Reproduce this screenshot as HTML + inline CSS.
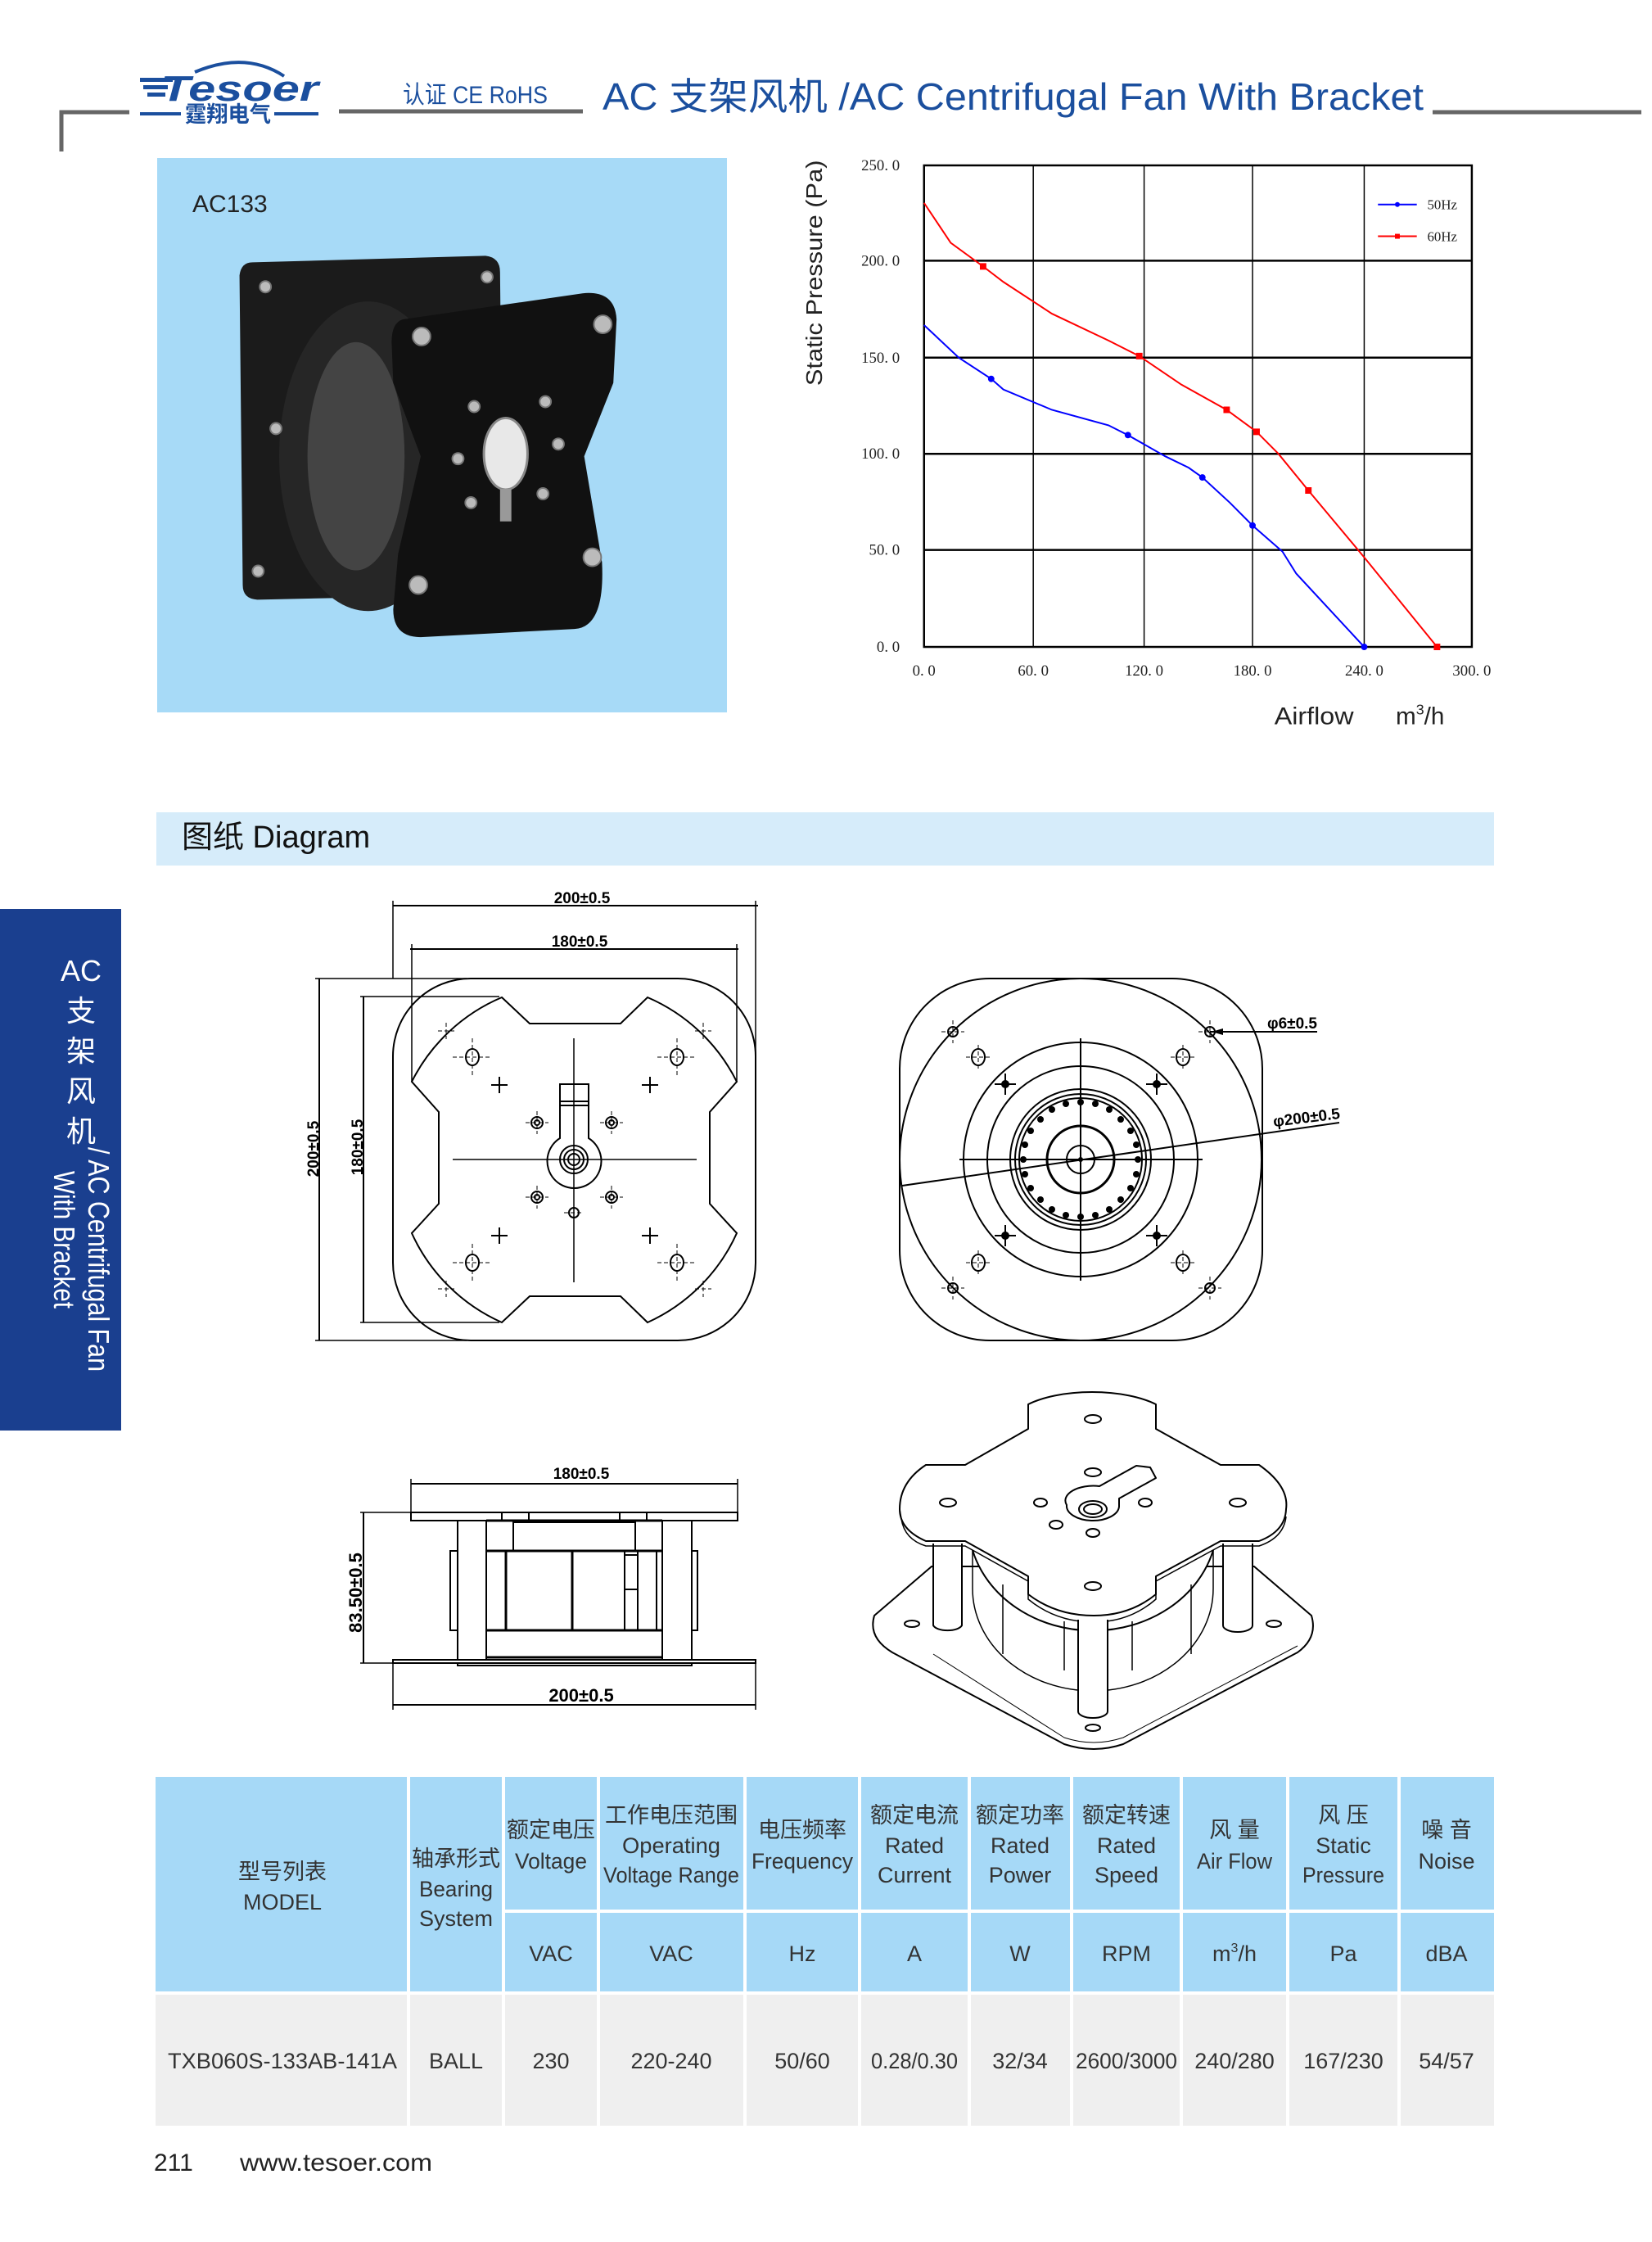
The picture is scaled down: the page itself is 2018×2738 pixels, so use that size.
<!DOCTYPE html>
<html><head><meta charset="utf-8"><style>
html,body{margin:0;padding:0;background:#fff;}
svg{display:block;}
text{font-family:"Liberation Sans","Noto Sans CJK SC",sans-serif;}
.s{font-family:"Liberation Serif","Noto Serif CJK SC",serif;}
</style></head><body>
<svg width="2018" height="2738" viewBox="0 0 2018 2738" xmlns="http://www.w3.org/2000/svg">
<!-- HEADER -->
<g stroke="#666" stroke-width="5" fill="none">
<polyline points="75,185 75,137 158,137"/>
<line x1="414" y1="136" x2="712" y2="136"/>
<line x1="1750" y1="137" x2="2005" y2="137"/>
</g>
<path d="M238,88 Q300,62 347,93" stroke="#1b4f9e" stroke-width="4" fill="none"/>
<g fill="#1b4f9e">
<rect x="171" y="95" width="40" height="5"/><rect x="175" y="104" width="30" height="5"/><rect x="180" y="113" width="22" height="5"/>
<text x="196" y="123" font-size="44" font-weight="bold" font-style="italic" textLength="193" lengthAdjust="spacingAndGlyphs">Tesoer</text>
<rect x="171" y="137" width="50" height="4"/><rect x="335" y="137" width="54" height="4"/>
<text x="226" y="149" font-size="27" font-weight="bold" textLength="105" lengthAdjust="spacingAndGlyphs">霆翔电气</text>
<text x="492" y="126" font-size="30" textLength="177" lengthAdjust="spacingAndGlyphs">认证 CE RoHS</text>
<text x="736" y="134" font-size="46" textLength="1003" lengthAdjust="spacingAndGlyphs">AC 支架风机 /AC Centrifugal Fan With Bracket</text>
</g>

<!-- PHOTO -->
<rect x="192" y="193" width="696" height="677" fill="#a7daf7"/>
<text x="235" y="259" font-size="30" fill="#222">AC133</text>
<g transform="matrix(0.9884 0 0 0.995 0 0)">
<path d="M312,322 L600,314 Q618,316 618,334 L622,712 Q620,728 604,730 L318,736 Q300,735 300,718 L296,338 Q298,322 312,322 Z" fill="#1b1b1b"/>
<ellipse cx="455" cy="560" rx="110" ry="190" fill="#262626"/>
<ellipse cx="440" cy="560" rx="60" ry="140" fill="#444"/>
<path d="M498,392 L720,360 Q760,356 762,392 L758,470 L722,560 L744,690 Q748,770 710,772 L520,782 Q486,782 486,748 L492,680 L520,560 L486,470 L484,420 Q484,396 498,392 Z" fill="#111"/>
<g fill="#bbb" stroke="#777" stroke-width="2">
<circle cx="521" cy="413" r="11"/><circle cx="745" cy="398" r="11"/><circle cx="732" cy="684" r="11"/><circle cx="517" cy="718" r="11"/>
<circle cx="328" cy="352" r="7"/><circle cx="602" cy="340" r="7"/><circle cx="341" cy="526" r="7"/><circle cx="319" cy="701" r="7"/>
<circle cx="586" cy="499" r="7"/><circle cx="674" cy="493" r="7"/><circle cx="566" cy="563" r="7"/><circle cx="690" cy="545" r="7"/><circle cx="582" cy="617" r="7"/><circle cx="671" cy="606" r="7"/>
</g>
<ellipse cx="625" cy="557" rx="27" ry="44" fill="#e8e8e8" stroke="#888" stroke-width="3"/>
<path d="M618,600 L618,640 L632,640 L632,600 Z" fill="#999"/>
</g>

<!-- CHART -->
<g transform="matrix(0.9884 0 0 0.995 0 0)">
<g stroke="#000" fill="none">
<g stroke-width="1.5">
<line x1="1277" y1="203" x2="1277" y2="794"/><line x1="1414" y1="203" x2="1414" y2="794"/>
<line x1="1548" y1="203" x2="1548" y2="794"/><line x1="1686" y1="203" x2="1686" y2="794"/>
</g>
<g stroke-width="2.5">
<line x1="1142" y1="320" x2="1819" y2="320"/><line x1="1142" y1="439" x2="1819" y2="439"/>
<line x1="1142" y1="557" x2="1819" y2="557"/><line x1="1142" y1="675" x2="1819" y2="675"/>
<rect x="1142" y="203" width="677" height="591"/>
</g>
</g>
<path d="M1142,399 L1185,439 L1225,465 L1240,478 L1300,503 L1370,522 L1394,534 L1440,560 L1469,574 L1486,586 L1520,617 L1548,645 L1585,677 L1602,704 L1686,794" stroke="#0000ff" stroke-width="2" fill="none"/>
<path d="M1142,249 L1175,298 L1215,327 L1240,346 L1300,385 L1370,418 L1408,437 L1460,472 L1516,503 L1553,530 L1580,557 L1617,602 L1686,684 L1776,794" stroke="#ff0000" stroke-width="2" fill="none"/>
<g fill="#0000ff"><circle cx="1225" cy="465" r="4"/><circle cx="1394" cy="534" r="4"/><circle cx="1486" cy="586" r="4"/><circle cx="1548" cy="645" r="4"/><circle cx="1686" cy="794" r="4"/></g>
<g fill="#ff0000"><rect x="1211" y="323" width="8" height="8"/><rect x="1404" y="433" width="8" height="8"/><rect x="1512" y="499" width="8" height="8"/><rect x="1549" y="526" width="8" height="8"/><rect x="1613" y="598" width="8" height="8"/><rect x="1772" y="790" width="8" height="8"/></g>
<line x1="1703" y1="251" x2="1751" y2="251" stroke="#0000ff" stroke-width="2"/><circle cx="1727" cy="251" r="3" fill="#0000ff"/>
<line x1="1703" y1="290" x2="1751" y2="290" stroke="#ff0000" stroke-width="2"/><rect x="1724" y="287" width="6" height="6" fill="#ff0000"/>
<g font-size="17" fill="#222">
<text class="s" x="1764" y="257">50Hz</text><text class="s" x="1764" y="296">60Hz</text>
</g>
<g font-size="19" fill="#222" text-anchor="end">
<text class="s" x="1112" y="209">250. 0</text><text class="s" x="1112" y="326">200. 0</text><text class="s" x="1112" y="445">150. 0</text>
<text class="s" x="1112" y="563">100. 0</text><text class="s" x="1112" y="681">50. 0</text><text class="s" x="1112" y="800">0. 0</text>
</g>
<g font-size="19" fill="#222" text-anchor="middle">
<text class="s" x="1142" y="829">0. 0</text><text class="s" x="1277" y="829">60. 0</text><text class="s" x="1414" y="829">120. 0</text>
<text class="s" x="1548" y="829">180. 0</text><text class="s" x="1686" y="829">240. 0</text><text class="s" x="1819" y="829">300. 0</text>
</g>
<text transform="translate(1016,335) rotate(-90)" text-anchor="middle" font-size="28" fill="#222" textLength="277" lengthAdjust="spacingAndGlyphs">Static Pressure (Pa)</text>
<text x="1575" y="889" font-size="30" fill="#222" textLength="98" lengthAdjust="spacingAndGlyphs">Airflow</text>
<text x="1725" y="889" font-size="30" fill="#222">m<tspan font-size="18" dy="-12">3</tspan><tspan dy="12">/h</tspan></text>
</g>

<!-- SIDE BAR -->
<rect x="0" y="1110" width="148" height="637" fill="#1a3f8f"/>
<g fill="#fff" font-size="36" text-anchor="middle">
<text x="99" y="1198">AC</text><text x="99" y="1247">支</text><text x="99" y="1296">架</text><text x="99" y="1345">风</text><text x="99" y="1394">机</text>
</g>
<text transform="translate(108,1401) rotate(90)" fill="#fff" font-size="36" textLength="274" lengthAdjust="spacingAndGlyphs">/ AC Centrifugal Fan</text>
<text transform="translate(66,1430) rotate(90)" fill="#fff" font-size="36" textLength="168" lengthAdjust="spacingAndGlyphs">With Bracket</text>

<!-- DIAGRAM BAR -->
<rect x="191" y="992" width="1634" height="65" fill="#d6ecfa"/>
<text x="222" y="1035" font-size="38" fill="#111">图纸 Diagram</text>

<!-- TOP VIEW LEFT -->
<g stroke="#000" stroke-width="2" fill="none">
<rect x="480" y="1195" width="443" height="442" rx="95"/>
<path d="M613,1218 L647,1250 L758,1250 L791,1218 A218,218 0 0 1 900,1321 L867,1358 L867,1470 L900,1506 A218,218 0 0 1 791,1615 L758,1583 L647,1583 L613,1615 A218,218 0 0 1 503,1506 L536,1470 L536,1358 L503,1321 A218,218 0 0 1 613,1218 Z"/>
<line x1="480" y1="1106" x2="926" y2="1106"/><line x1="501" y1="1159" x2="902" y2="1159"/>
<line x1="480" y1="1100" x2="480" y2="1195" stroke-width="1.5"/><line x1="923" y1="1100" x2="923" y2="1300" stroke-width="1.5"/>
<line x1="503" y1="1153" x2="503" y2="1321" stroke-width="1.5"/><line x1="900" y1="1153" x2="900" y2="1321" stroke-width="1.5"/>
<line x1="390" y1="1195" x2="390" y2="1637"/><line x1="444" y1="1217" x2="444" y2="1615"/>
<line x1="385" y1="1195" x2="570" y2="1195" stroke-width="1.5"/><line x1="385" y1="1637" x2="570" y2="1637" stroke-width="1.5"/>
<line x1="440" y1="1217" x2="610" y2="1217" stroke-width="1.5"/><line x1="440" y1="1615" x2="610" y2="1615" stroke-width="1.5"/>
<line x1="553" y1="1416" x2="851" y2="1416" stroke-width="1.5"/><line x1="701" y1="1268" x2="701" y2="1566" stroke-width="1.5"/>
<path d="M684,1324 L719,1324 L719,1390 A33,33 0 1 1 684,1390 Z"/>
<line x1="684" y1="1345" x2="719" y2="1345"/><line x1="684" y1="1350" x2="719" y2="1350"/>
<circle cx="701" cy="1416" r="17"/><circle cx="701" cy="1416" r="12"/><circle cx="701" cy="1416" r="7"/>
<circle cx="656" cy="1371" r="7"/><circle cx="747" cy="1371" r="7"/><circle cx="656" cy="1462" r="7"/><circle cx="747" cy="1462" r="7"/>
<circle cx="656" cy="1371" r="3"/><circle cx="747" cy="1371" r="3"/><circle cx="656" cy="1462" r="3"/><circle cx="747" cy="1462" r="3"/>
<circle cx="701" cy="1481" r="6"/>
<path d="M600,1325 h20 M610,1315 v20 M784,1325 h20 M794,1315 v20 M600,1509 h20 M610,1499 v20 M784,1509 h20 M794,1499 v20"/>
<ellipse cx="577" cy="1291" rx="8" ry="10"/><ellipse cx="827" cy="1291" rx="8" ry="10"/><ellipse cx="577" cy="1542" rx="8" ry="10"/><ellipse cx="827" cy="1542" rx="8" ry="10"/>
<g stroke-width="1" stroke-dasharray="5,3">
<path d="M553,1291 h48 M577,1268 v46 M803,1291 h48 M827,1268 v46 M553,1542 h48 M577,1519 v46 M803,1542 h48 M827,1519 v46"/>
<path d="M535,1259 h20 M545,1249 v20 M849,1259 h20 M859,1249 v20 M535,1574 h20 M545,1564 v20 M849,1574 h20 M859,1564 v20"/>
<path d="M642,1371 h28 M656,1357 v28 M733,1371 h28 M747,1357 v28 M642,1462 h28 M656,1448 v28 M733,1462 h28 M747,1448 v28 M689,1481 h24"/>
</g>
</g>
<g font-size="19" font-weight="bold" fill="#000" text-anchor="middle">
<text x="711" y="1103">200±0.5</text><text x="708" y="1156">180±0.5</text>
<text transform="translate(389,1403) rotate(-90)">200±0.5</text>
<text transform="translate(443,1401) rotate(-90)">180±0.5</text>
</g>

<!-- TOP VIEW RIGHT -->
<g stroke="#000" stroke-width="2" fill="none">
<rect x="1099" y="1195" width="443" height="442" rx="110"/>
<circle cx="1320" cy="1416" r="221"/>
<circle cx="1320" cy="1416" r="143"/><circle cx="1320" cy="1416" r="114"/>
<circle cx="1320" cy="1416" r="86"/><circle cx="1320" cy="1416" r="80"/><circle cx="1320" cy="1416" r="75"/>
<circle cx="1320" cy="1416" r="41" stroke-width="3"/><circle cx="1320" cy="1416" r="17"/>
<line x1="1172" y1="1416" x2="1469" y2="1416"/><line x1="1320" y1="1268" x2="1320" y2="1564"/>
<line x1="1102" y1="1448" x2="1636" y2="1371"/>
<line x1="1478" y1="1260" x2="1609" y2="1260"/>
<circle cx="1164" cy="1260" r="6"/><circle cx="1478" cy="1260" r="6"/><circle cx="1164" cy="1573" r="6"/><circle cx="1478" cy="1573" r="6"/>
<ellipse cx="1195" cy="1291" rx="8" ry="10"/><ellipse cx="1445" cy="1291" rx="8" ry="10"/><ellipse cx="1195" cy="1542" rx="8" ry="10"/><ellipse cx="1445" cy="1542" rx="8" ry="10"/>
<g stroke-width="1" stroke-dasharray="5,3">
<path d="M1150,1260 h28 M1164,1246 v28 M1464,1260 h28 M1478,1246 v28 M1150,1573 h28 M1164,1559 v28 M1464,1573 h28 M1478,1559 v28"/>
<path d="M1180,1291 h30 M1195,1276 v30 M1430,1291 h30 M1445,1276 v30 M1180,1542 h30 M1195,1527 v30 M1430,1542 h30 M1445,1527 v30"/>
</g>
<path d="M1215,1324 h26 M1228,1311 v26 M1400,1324 h26 M1413,1311 v26 M1215,1509 h26 M1228,1496 v26 M1400,1509 h26 M1413,1496 v26"/>
</g>
<g fill="#000">
<circle cx="1228" cy="1324" r="5"/><circle cx="1413" cy="1324" r="5"/><circle cx="1228" cy="1509" r="5"/><circle cx="1413" cy="1509" r="5"/>
<polygon points="1480,1260 1494,1256 1494,1264"/>
<circle cx="1390" cy="1416" r="4"/><circle cx="1388" cy="1434" r="4"/><circle cx="1381" cy="1451" r="4"/><circle cx="1369" cy="1465" r="4"/><circle cx="1355" cy="1477" r="4"/><circle cx="1338" cy="1484" r="4"/><circle cx="1320" cy="1486" r="4"/><circle cx="1302" cy="1484" r="4"/><circle cx="1285" cy="1477" r="4"/><circle cx="1271" cy="1465" r="4"/><circle cx="1259" cy="1451" r="4"/><circle cx="1252" cy="1434" r="4"/><circle cx="1250" cy="1416" r="4"/><circle cx="1252" cy="1398" r="4"/><circle cx="1259" cy="1381" r="4"/><circle cx="1271" cy="1367" r="4"/><circle cx="1285" cy="1355" r="4"/><circle cx="1302" cy="1348" r="4"/><circle cx="1320" cy="1346" r="4"/><circle cx="1338" cy="1348" r="4"/><circle cx="1355" cy="1355" r="4"/><circle cx="1369" cy="1367" r="4"/><circle cx="1381" cy="1381" r="4"/><circle cx="1388" cy="1398" r="4"/>
<circle cx="1320" cy="1416" r="3"/>
</g>
<g font-size="19" font-weight="bold" fill="#000">
<text x="1548" y="1256">φ6±0.5</text>
<text transform="translate(1556,1376) rotate(-7)">φ200±0.5</text>
</g>

<!-- SIDE VIEW -->
<g stroke="#000" stroke-width="2" fill="none">
<line x1="502" y1="1812" x2="901" y2="1812"/>
<line x1="502" y1="1806" x2="502" y2="1857" stroke-width="1.5"/><line x1="901" y1="1806" x2="901" y2="1857" stroke-width="1.5"/>
<rect x="502" y="1847" width="399" height="10"/>
<line x1="613" y1="1847" x2="613" y2="1857"/><line x1="646" y1="1847" x2="646" y2="1857"/><line x1="757" y1="1847" x2="757" y2="1857"/><line x1="790" y1="1847" x2="790" y2="1857"/>
<line x1="444" y1="1847" x2="444" y2="2031"/>
<line x1="440" y1="1847" x2="502" y2="1847" stroke-width="1.5"/><line x1="440" y1="2031" x2="480" y2="2031" stroke-width="1.5"/>
<rect x="559" y="1857" width="35" height="170"/><rect x="809" y="1857" width="36" height="170"/>
<line x1="594" y1="1857" x2="809" y2="1857" stroke-width="3"/>
<rect x="627" y="1859" width="149" height="35"/>
<line x1="594" y1="1894" x2="809" y2="1894" stroke-width="3"/><line x1="594" y1="1991" x2="809" y2="1991" stroke-width="3"/>
<rect x="550" y="1894" width="9" height="97"/><rect x="845" y="1894" width="7" height="97"/>
<line x1="618" y1="1894" x2="618" y2="1991" stroke-width="3"/><line x1="699" y1="1894" x2="699" y2="1991" stroke-width="3"/>
<line x1="763" y1="1894" x2="763" y2="1991"/><line x1="779" y1="1894" x2="779" y2="1991"/><line x1="802" y1="1894" x2="802" y2="1991"/>
<rect x="763" y="1899" width="16" height="42"/>
<line x1="594" y1="2024" x2="809" y2="2024" stroke-width="3"/>
<rect x="480" y="2027" width="443" height="4"/>
<rect x="559" y="2031" width="286" height="3"/>
<line x1="480" y1="2082" x2="923" y2="2082"/>
<line x1="480" y1="2031" x2="480" y2="2088" stroke-width="1.5"/><line x1="923" y1="2031" x2="923" y2="2088" stroke-width="1.5"/>
</g>
<g font-size="19" font-weight="bold" fill="#000" text-anchor="middle">
<text x="710" y="1806">180±0.5</text><text x="710" y="2078" font-size="22">200±0.5</text>
<text transform="translate(442,1945) rotate(-90)" font-size="22">83.50±0.5</text>
</g>

<!-- ISO VIEW -->
<g stroke="#000" stroke-width="2" fill="#fff" stroke-linejoin="round">
<path d="M1138,1913 L1068,1973 Q1060,2000 1090,2018 L1300,2130 Q1336,2142 1372,2130 L1585,2018 Q1610,2000 1602,1973 L1532,1913 Z"/>
<path d="M1140,2020 L1300,2122 Q1336,2134 1372,2122 L1585,2010" fill="none" stroke-width="1"/>
<path d="M1188,1893 A152,132 0 0 0 1482,1893" />
<path d="M1188,1893 L1188,1940 A147,125 0 0 0 1482,1940 L1482,1893" fill="none" stroke-width="1.5"/>
<line x1="1225" y1="1935" x2="1225" y2="2020" stroke-width="1.5"/><line x1="1300" y1="1980" x2="1300" y2="2040" stroke-width="1.5"/><line x1="1383" y1="1980" x2="1383" y2="2040" stroke-width="1.5"/><line x1="1455" y1="1935" x2="1455" y2="2020" stroke-width="1.5"/>
<path d="M1140,1885 L1140,1985 A18,8 0 0 0 1175,1985 L1175,1885"/>
<path d="M1494,1885 L1494,1985 A18,8 0 0 0 1530,1985 L1530,1885"/>
<path d="M1256,1715 A100,40 0 0 1 1412,1715 L1412,1745 L1491,1789 L1538,1789 Q1575,1815 1571,1843 Q1570,1870 1538,1882 L1491,1882 L1412,1925 L1412,1947 Q1380,1973 1336,1973 Q1290,1973 1256,1947 L1256,1925 L1179,1882 L1131,1882 Q1099,1868 1099,1843 Q1099,1810 1131,1789 L1179,1789 L1256,1745 Z"/>
<path d="M1099,1843 L1101,1855 Q1105,1880 1131,1888 L1179,1888 L1256,1931 L1256,1953 Q1290,1981 1336,1981 Q1380,1981 1412,1953 L1412,1931 L1491,1888 L1538,1888 Q1568,1878 1571,1852" fill="none" stroke-width="1.5"/>
<path d="M1317,1978 L1317,2090 A18,8 0 0 0 1353,2090 L1353,1978"/>
<ellipse cx="1335" cy="1733" rx="10" ry="5"/><ellipse cx="1335" cy="1798" rx="10" ry="5"/><ellipse cx="1158" cy="1835" rx="10" ry="5"/><ellipse cx="1512" cy="1835" rx="10" ry="5"/>
<ellipse cx="1271" cy="1835" rx="8" ry="5"/><ellipse cx="1399" cy="1835" rx="8" ry="5"/><ellipse cx="1290" cy="1862" rx="8" ry="5"/><ellipse cx="1335" cy="1872" rx="8" ry="5"/><ellipse cx="1335" cy="1937" rx="10" ry="5"/>
<ellipse cx="1114" cy="1983" rx="9" ry="4"/><ellipse cx="1556" cy="1983" rx="9" ry="4"/><ellipse cx="1335" cy="2110" rx="9" ry="4"/>
<path d="M1303,1838 A32,18 0 0 0 1367,1840 L1367,1830 L1412,1805 L1405,1792 L1388,1790 L1343,1815 A34,18 0 0 0 1303,1838 Z"/>
<ellipse cx="1335" cy="1843" rx="17" ry="10"/><ellipse cx="1335" cy="1843" rx="11" ry="6"/>
</g>

<!-- TABLE -->
<g fill="#a6d9f7">
<rect x="190" y="2170" width="307" height="262"/><rect x="501" y="2170" width="112" height="262"/>
<rect x="617" y="2170" width="112" height="162"/><rect x="733" y="2170" width="175" height="162"/><rect x="912" y="2170" width="136" height="162"/><rect x="1052" y="2170" width="130" height="162"/><rect x="1186" y="2170" width="121" height="162"/><rect x="1311" y="2170" width="130" height="162"/><rect x="1445" y="2170" width="126" height="162"/><rect x="1575" y="2170" width="132" height="162"/><rect x="1711" y="2170" width="114" height="162"/>
<rect x="617" y="2336" width="112" height="96"/><rect x="733" y="2336" width="175" height="96"/><rect x="912" y="2336" width="136" height="96"/><rect x="1052" y="2336" width="130" height="96"/><rect x="1186" y="2336" width="121" height="96"/><rect x="1311" y="2336" width="130" height="96"/><rect x="1445" y="2336" width="126" height="96"/><rect x="1575" y="2336" width="132" height="96"/><rect x="1711" y="2336" width="114" height="96"/>
</g>
<g fill="#efefef">
<rect x="190" y="2436" width="307" height="160"/><rect x="501" y="2436" width="112" height="160"/><rect x="617" y="2436" width="112" height="160"/><rect x="733" y="2436" width="175" height="160"/><rect x="912" y="2436" width="136" height="160"/><rect x="1052" y="2436" width="130" height="160"/><rect x="1186" y="2436" width="121" height="160"/><rect x="1311" y="2436" width="130" height="160"/><rect x="1445" y="2436" width="126" height="160"/><rect x="1575" y="2436" width="132" height="160"/><rect x="1711" y="2436" width="114" height="160"/>
</g>
<g font-size="27" fill="#333" text-anchor="middle">
<text x="345" y="2295">型号列表</text><text x="345" y="2332">MODEL</text>
<text x="557" y="2279">轴承形式</text><text x="557" y="2316" textLength="90" lengthAdjust="spacingAndGlyphs">Bearing</text><text x="557" y="2352">System</text>
<text x="673" y="2244">额定电压</text><text x="673" y="2282" textLength="88" lengthAdjust="spacingAndGlyphs">Voltage</text>
<text x="820" y="2226">工作电压范围</text><text x="820" y="2263" textLength="120" lengthAdjust="spacingAndGlyphs">Operating</text><text x="820" y="2299" textLength="166" lengthAdjust="spacingAndGlyphs">Voltage Range</text>
<text x="980" y="2244">电压频率</text><text x="980" y="2282" textLength="124" lengthAdjust="spacingAndGlyphs">Frequency</text>
<text x="1117" y="2226">额定电流</text><text x="1117" y="2263">Rated</text><text x="1117" y="2299" textLength="90" lengthAdjust="spacingAndGlyphs">Current</text>
<text x="1246" y="2226">额定功率</text><text x="1246" y="2263">Rated</text><text x="1246" y="2299">Power</text>
<text x="1376" y="2226">额定转速</text><text x="1376" y="2263">Rated</text><text x="1376" y="2299">Speed</text>
<text x="1508" y="2244">风 量</text><text x="1508" y="2282" textLength="92" lengthAdjust="spacingAndGlyphs">Air Flow</text>
<text x="1641" y="2226">风 压</text><text x="1641" y="2263">Static</text><text x="1641" y="2299" textLength="100" lengthAdjust="spacingAndGlyphs">Pressure</text>
<text x="1767" y="2244">噪 音</text><text x="1767" y="2282">Noise</text>
<text x="673" y="2395">VAC</text><text x="820" y="2395">VAC</text><text x="980" y="2395">Hz</text><text x="1117" y="2395">A</text><text x="1246" y="2395">W</text><text x="1376" y="2395">RPM</text>
<text x="1508" y="2395">m<tspan font-size="16" dy="-11">3</tspan><tspan dy="11">/h</tspan></text><text x="1641" y="2395">Pa</text><text x="1767" y="2395">dBA</text>
<text x="345" y="2526" textLength="280" lengthAdjust="spacingAndGlyphs">TXB060S-133AB-141A</text>
<text x="557" y="2526">BALL</text><text x="673" y="2526">230</text><text x="820" y="2526">220-240</text><text x="980" y="2526">50/60</text>
<text x="1117" y="2526" textLength="106" lengthAdjust="spacingAndGlyphs">0.28/0.30</text><text x="1246" y="2526">32/34</text>
<text x="1376" y="2526" textLength="124" lengthAdjust="spacingAndGlyphs">2600/3000</text><text x="1508" y="2526">240/280</text><text x="1641" y="2526">167/230</text><text x="1767" y="2526">54/57</text>
</g>

<!-- FOOTER -->
<text x="188" y="2651" font-size="30" fill="#222">211</text>
<text x="293" y="2651" font-size="30" fill="#222" textLength="235" lengthAdjust="spacingAndGlyphs">www.tesoer.com</text>
</svg>
</body></html>
